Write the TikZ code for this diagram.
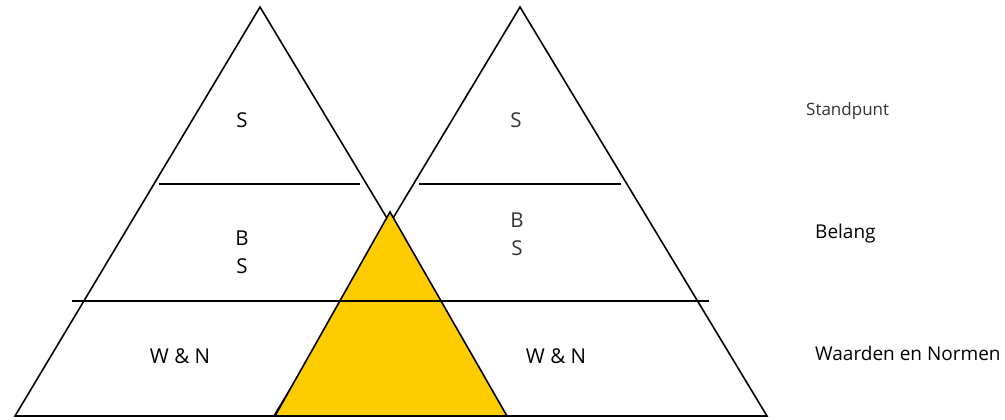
\documentclass[tikz,border=0pt]{standalone}
\usepackage{fontspec}
\setmainfont{Open Sans}
\definecolor{gold}{HTML}{FFCC00}
\definecolor{lighttext}{HTML}{333333}
\begin{document}
\begin{tikzpicture}[x=1pt,y=-1pt,
  edge/.style={draw=black,line width=1.6pt,line join=miter},
  lbl/.style={inner sep=0pt,font=\fontsize{20.5}{28}\selectfont,align=center},
  lbllight/.style={lbl,text=lighttext},
  side/.style={inner sep=0pt,anchor=west,font=\fontsize{19}{24}\selectfont}]
\useasboundingbox (0,0) rectangle (1005,420);
% vertices
\coordinate (LA) at (260,7);
\coordinate (LL) at (15,416);
\coordinate (LR) at (506,416);
\coordinate (RA) at (520,7);
\coordinate (RL) at (274,416);
\coordinate (RR) at (767,416);
\coordinate (YA) at (390,212);
\coordinate (YL) at (275,416);
\coordinate (YR) at (507,416);
\coordinate (L1a) at (159,184);
\coordinate (L1b) at (360,184);
\coordinate (R1a) at (419,184);
\coordinate (R1b) at (621,184);
\coordinate (M2a) at (72,301);
\coordinate (M2b) at (709,301);
% big triangles
\draw[edge] (LA) -- (LL) -- (LR) -- cycle;
\draw[edge] (RA) -- (RL) -- (RR) -- cycle;
\draw[edge] (L1a) -- (L1b);
\draw[edge] (R1a) -- (R1b);
% yellow triangle
\filldraw[edge,fill=gold] (YA) -- (YL) -- (YR) -- cycle;
\draw[edge] (M2a) -- (M2b);
% labels
\node[lbl] (ls) at (242,120) {S};
\node[lbllight] (rs) at (516,120) {S};
\node[lbl] (lbs) at (242,252) {B\\S};
\node[lbllight] (rbs) at (517,234) {B\\S};
\node[lbl] (lwn) at (180,356) {W \& N};
\node[lbl] (rwn) at (556,356) {W \& N};
\node[side,text=lighttext,font=\fontsize{17}{22}\selectfont] (stand) at (806,111) {Standpunt};
\node[side] (belang) at (815,234) {Belang};
\node[side] (waarden) at (815,353) {Waarden en Normen};
\end{tikzpicture}
\end{document}
